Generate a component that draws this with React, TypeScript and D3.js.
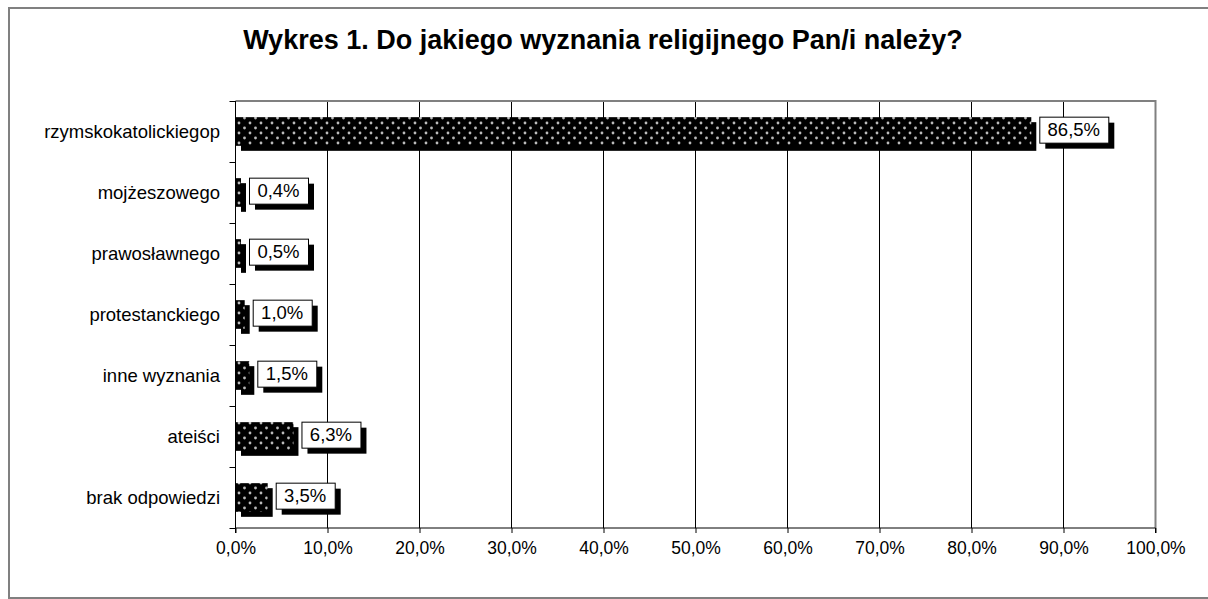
import * as d3 from 'd3';
import React, { useEffect, useRef } from 'react';

const categories = [
  'rzymskokatolickiegop',
  'mojżeszowego',
  'prawosławnego',
  'protestanckiego',
  'inne wyznania',
  'ateiści',
  'brak odpowiedzi',
];
const values = [86.5, 0.4, 0.5, 1.0, 1.5, 6.3, 3.5];
const valueLabels = ['86,5%', '0,4%', '0,5%', '1,0%', '1,5%', '6,3%', '3,5%'];
const ticks = [0, 10, 20, 30, 40, 50, 60, 70, 80, 90, 100];
const title = 'Wykres 1. Do jakiego wyznania religijnego Pan/i należy?';

const App = () => {
  const ref = useRef<SVGSVGElement>(null);

  useEffect(() => {
    const W = 1208;
    const H = 599;
    const font = 'Arial, "Liberation Sans", sans-serif';
    const svg = d3.select(ref.current).attr('width', W).attr('height', H);
    svg.selectAll('*').remove();

    // dotted fill pattern
    const defs = svg.append('defs');
    const pat = defs.append('pattern')
      .attr('id', 'dots')
      .attr('patternUnits', 'userSpaceOnUse')
      .attr('width', 11)
      .attr('height', 10)
      .attr('x', 236)
      .attr('y', 0);
    pat.append('rect').attr('width', 11).attr('height', 10).attr('fill', '#000');
    pat.append('circle').attr('cx', 3).attr('cy', 3).attr('r', 1.4).attr('fill', '#bbb');
    pat.append('circle').attr('cx', 8.5).attr('cy', 8).attr('r', 1.4).attr('fill', '#bbb');

    // outer frame
    svg.append('rect')
      .attr('x', 9).attr('y', 8).attr('width', 1220).attr('height', 590)
      .attr('fill', '#fff').attr('stroke', '#808080').attr('stroke-width', 2);

    svg.append('text')
      .attr('x', 603).attr('y', 49)
      .attr('text-anchor', 'middle')
      .attr('font-family', font).attr('font-weight', 'bold').attr('font-size', 27)
      .text(title);

    const left = 235.5;
    const right = 1155.5;
    const top = 101;
    const bottom = 528;

    const x = d3.scaleLinear().domain([0, 100]).range([left, right]);
    const y = d3.scaleBand().domain(categories).range([top, bottom]).paddingInner(0.53).paddingOuter(0.265);

    const g = svg.append('g');

    // gridlines
    g.selectAll('line.grid')
      .data(ticks.filter((t) => t > 0 && t < 100))
      .join('line')
      .attr('x1', (d) => x(d)).attr('x2', (d) => x(d))
      .attr('y1', top).attr('y2', bottom)
      .attr('stroke', '#000').attr('stroke-width', 1);

    // plot border (gray top and right)
    g.append('path')
      .attr('d', `M${left},${top}H${right}V${bottom}`)
      .attr('fill', 'none').attr('stroke', '#808080').attr('stroke-width', 2);

    // bottom axis
    const xAxis = d3.axisBottom(x)
      .tickValues(ticks)
      .tickSize(5)
      .tickFormat((d) => `${(d as number).toFixed(1).replace('.', ',')}%`);
    const xa = g.append('g').attr('transform', `translate(0,${bottom})`).call(xAxis);
    xa.select('.domain').attr('stroke', '#000').attr('d', `M${left},5V0H${right}V5`);
    xa.selectAll('text').attr('font-family', font).attr('font-size', 17.5).attr('fill', '#000').attr('dy', '1.0em');

    // left axis with ticks at category boundaries
    const bounds = d3.range(categories.length + 1).map((i) => top + (i * (bottom - top)) / categories.length);
    g.append('line')
      .attr('x1', left).attr('x2', left).attr('y1', top).attr('y2', bottom + 5)
      .attr('stroke', '#000');
    g.selectAll('line.ytick')
      .data(bounds)
      .join('line')
      .attr('x1', left - 6).attr('x2', left)
      .attr('y1', (d) => Math.round(d) + 0.5).attr('y2', (d) => Math.round(d) + 0.5)
      .attr('stroke', '#000');
    g.selectAll('text.ylab')
      .data(categories)
      .join('text')
      .attr('x', 220)
      .attr('y', (d) => (y(d) as number) + y.bandwidth() / 2)
      .attr('dy', '0.35em')
      .attr('text-anchor', 'end')
      .attr('font-family', font).attr('font-size', 18.5)
      .text((d) => d);

    const bw = y.bandwidth();
    const x0 = left + 0.5;
    // bar shadows
    g.selectAll('rect.shadow')
      .data(values)
      .join('rect')
      .attr('x', x0 + 5)
      .attr('y', (_, i) => (y(categories[i]) as number) + 5)
      .attr('width', (d) => Math.max(x(d) - x0, 5))
      .attr('height', bw)
      .attr('fill', '#000');
    // bars
    g.selectAll('rect.bar')
      .data(values)
      .join('rect')
      .attr('x', x0)
      .attr('y', (_, i) => y(categories[i]) as number)
      .attr('width', (d) => Math.max(x(d) - x0, 5))
      .attr('height', bw)
      .attr('fill', 'url(#dots)');

    // value labels in boxes
    values.forEach((v, i) => {
      const bx = Math.max(x(v), x0 + 5) + 8;
      const by = (y(categories[i]) as number) - 0.5;
      const lg = g.append('g');
      const t = lg.append('text')
        .attr('font-family', font).attr('font-size', 18.5)
        .attr('text-anchor', 'middle')
        .text(valueLabels[i]);
      const tw = (t.node() as SVGTextElement).getComputedTextLength();
      const w = Math.round(tw + 17);
      const h = 26;
      lg.insert('rect', 'text')
        .attr('x', bx + 6).attr('y', by + 6).attr('width', w).attr('height', h)
        .attr('fill', '#000');
      lg.insert('rect', 'text')
        .attr('x', bx + 0.5).attr('y', by + 0.5).attr('width', w).attr('height', h)
        .attr('fill', '#fff').attr('stroke', '#000');
      t.attr('x', bx + w / 2).attr('y', by + h / 2).attr('dy', '0.36em');
    });
  }, []);

  return <svg ref={ref} style={{ position: 'absolute', left: 0, top: 0 }} />;
};

export default App;
